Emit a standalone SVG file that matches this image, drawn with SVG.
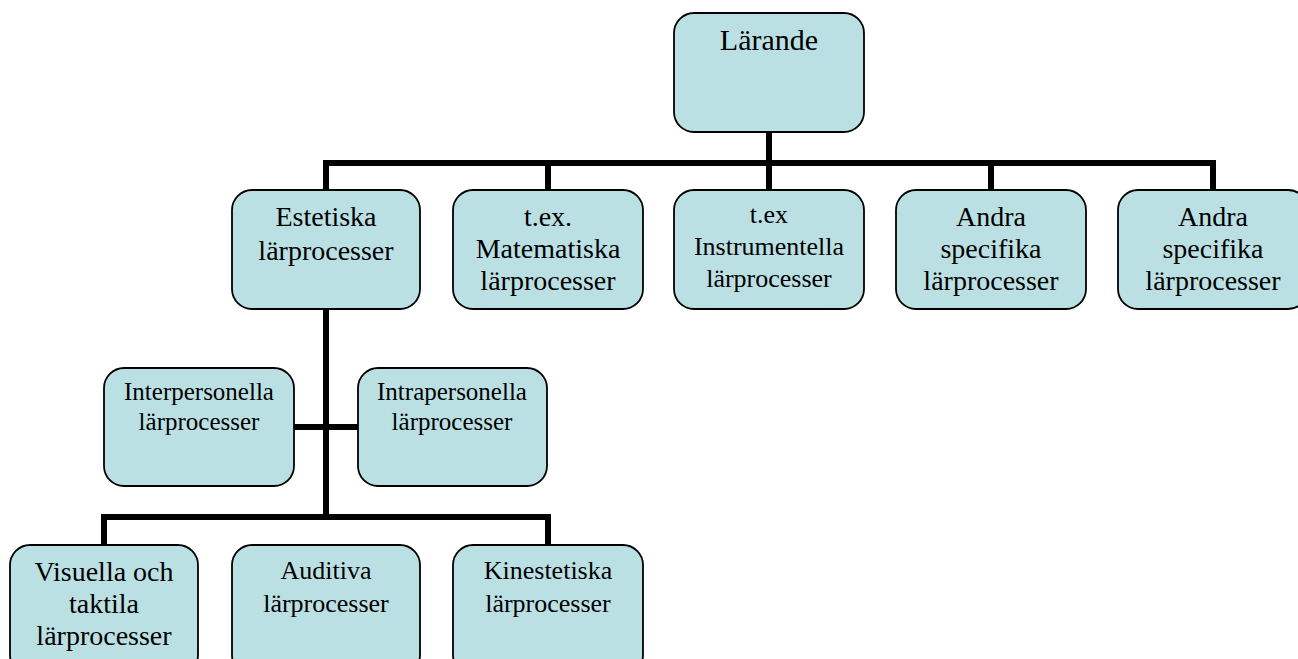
<svg xmlns="http://www.w3.org/2000/svg" width="1298" height="659" viewBox="0 0 1298 659">
<style>
.box{fill:#BBE0E3;stroke:#000;stroke-width:1.8}
.t{font-family:"Liberation Serif","Times New Roman",serif;fill:#000;text-anchor:middle}
.xl{font-size:30px}
.l{font-size:28px}
.m{font-size:26px}
.s{font-size:25px}
.c{stroke:#000;stroke-width:6;fill:none;stroke-linecap:square}
</style>
<rect width="1298" height="659" fill="#fff"/>
<g id="connectors">
<path class="c" d="M769 132V163M326 163H1213M326 163V190M548 163V190M769 163V190M991 163V190M1213 163V190"/>
<path class="c" d="M326 309V517M294 427H358M104 517H548M104 517V545M548 517V545"/>
</g>
<g id="n-larande"><rect class="box" x="674" y="13" width="190" height="119" rx="20"/><text class="t xl" x="769" y="50">Lärande</text></g>
<g id="n-estetiska"><rect class="box" x="232" y="190" width="188" height="119" rx="20"/><text class="t l" x="326" y="226">Estetiska</text><text class="t l" x="326" y="260">lärprocesser</text></g>
<g id="n-matematiska"><rect class="box" x="453" y="190" width="190" height="119" rx="20"/><text class="t l" x="548" y="226">t.ex.</text><text class="t l" x="548" y="258">Matematiska</text><text class="t l" x="548" y="290">lärprocesser</text></g>
<g id="n-instrumentella"><rect class="box" x="674" y="190" width="190" height="119" rx="20"/><text class="t m" x="769" y="223">t.ex</text><text class="t m" x="769" y="255">Instrumentella</text><text class="t m" x="769" y="287">lärprocesser</text></g>
<g id="n-andra1"><rect class="box" x="896" y="190" width="190" height="119" rx="20"/><text class="t l" x="991" y="226">Andra</text><text class="t l" x="991" y="258">specifika</text><text class="t l" x="991" y="290">lärprocesser</text></g>
<g id="n-andra2"><rect class="box" x="1118" y="190" width="190" height="119" rx="20"/><text class="t l" x="1213" y="226">Andra</text><text class="t l" x="1213" y="258">specifika</text><text class="t l" x="1213" y="290">lärprocesser</text></g>
<g id="n-inter"><rect class="box" x="104" y="368" width="190" height="118" rx="20"/><text class="t s" x="199" y="400">Interpersonella</text><text class="t s" x="199" y="430">lärprocesser</text></g>
<g id="n-intra"><rect class="box" x="358" y="368" width="189" height="118" rx="20"/><text class="t s" x="452" y="400">Intrapersonella</text><text class="t s" x="452" y="430">lärprocesser</text></g>
<g id="n-visuella"><rect class="box" x="10" y="545" width="188" height="130" rx="20"/><text class="t l" x="104" y="581">Visuella och</text><text class="t l" x="104" y="613">taktila</text><text class="t l" x="104" y="645">lärprocesser</text></g>
<g id="n-auditiva"><rect class="box" x="232" y="545" width="188" height="130" rx="20"/><text class="t m" x="326" y="579">Auditiva</text><text class="t m" x="326" y="612">lärprocesser</text></g>
<g id="n-kinestetiska"><rect class="box" x="453" y="545" width="190" height="130" rx="20"/><text class="t m" x="548" y="579">Kinestetiska</text><text class="t m" x="548" y="612">lärprocesser</text></g>
</svg>
